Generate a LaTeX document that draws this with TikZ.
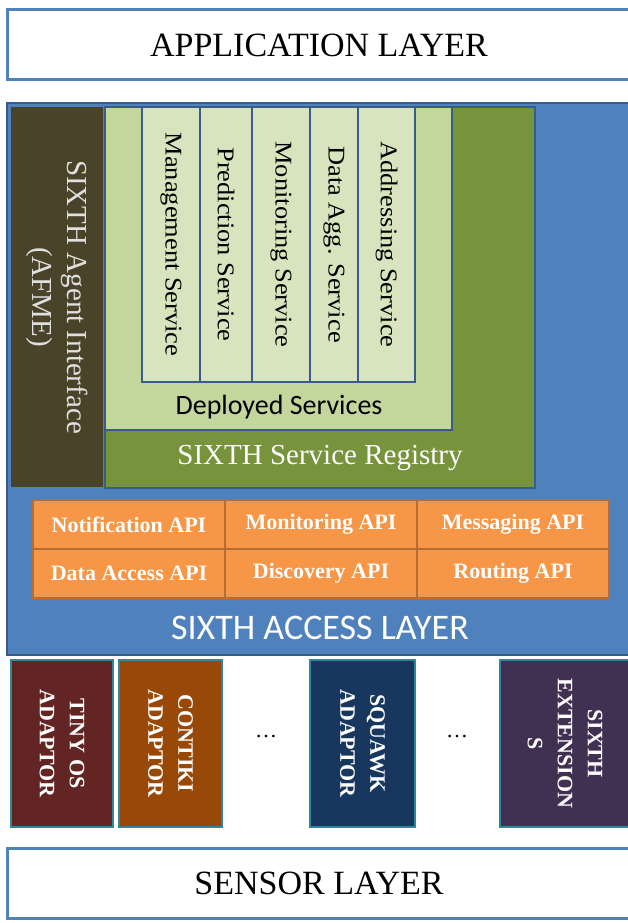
\documentclass[tikz,border=0pt]{standalone}
\usepackage{fontspec}
\setmainfont{Liberation Serif}
\newfontfamily\calib{Carlito}
\newfontfamily\servfont[FakeStretch=1.1]{Liberation Serif}
\definecolor{lblue}{HTML}{4F81BD}
\definecolor{dblue}{HTML}{385D8A}
\definecolor{afmebrown}{HTML}{494429}
\definecolor{reggreen}{HTML}{77933C}
\definecolor{depgreen}{HTML}{C3D69B}
\definecolor{svgreen}{HTML}{D7E4BD}
\definecolor{apiorange}{HTML}{F79646}
\definecolor{apibrd}{HTML}{B66D31}
\definecolor{adpbrd}{HTML}{31859C}
\definecolor{tinyred}{HTML}{632523}
\definecolor{contikibrown}{HTML}{984807}
\definecolor{squawknavy}{HTML}{17375E}
\definecolor{extpurple}{HTML}{403152}

\begin{document}
\begin{tikzpicture}[x=1pt,y=-1pt,
		box/.style={rectangle,anchor=north west,inner sep=0pt,outer sep=0pt},
		layer/.style={box,draw=lblue,line width=3pt,fill=white,minimum width=624pt,minimum height=70pt,font=\fontsize{34}{34}\selectfont},
		svc/.style={box,draw=dblue,line width=2.5pt,fill=svgreen,minimum height=275pt},
		svtxt/.style={rotate=-90,font=\servfont\fontsize{24}{24}\selectfont},
		api/.style={box,draw=apibrd,line width=2.5pt,fill=apiorange,minimum width=192pt,minimum height=49pt,text=white,font=\bfseries\fontsize{22}{22}\selectfont},
		adp/.style={box,draw=adpbrd,line width=2.5pt,minimum height=167pt},
		adtxt/.style={rotate=-90,align=center,text=white,font=\bfseries\fontsize{22}{30}\selectfont}]
		\useasboundingbox (0,0) rectangle (628,923);
		\clip (0,0) rectangle (628,923);
		\fill[white] (0,0) rectangle (628,923);
		\node[layer] (app) at (7,10) {APPLICATION LAYER};
		\node[box,fill=lblue,draw=dblue,line width=2pt,minimum width=630pt,minimum height=552pt] (sal) at (7,103) {};
		\node[box,fill=reggreen,draw=dblue,line width=1.5pt,minimum width=430pt,minimum height=381pt] (reg) at (105,107) {};
		\node[box,fill=afmebrown,minimum width=92pt,minimum height=380pt] (afme) at (11,107) {};
		\node[box,fill=depgreen,draw=dblue,line width=2.5pt,minimum width=347pt,minimum height=323pt] (dep) at (105,107) {};
		\node[svc,minimum width=58pt] (mgt) at (142,107) {};
		\node[svc,minimum width=52pt] (pred) at (200,107) {};
		\node[svc,minimum width=58pt] (mon) at (252,107) {};
		\node[svc,minimum width=48pt] (agg) at (310,107) {};
		\node[svc,minimum width=57pt] (addr) at (358,107) {};
		\node[svtxt] (mgtL) at (mgt.center) {Management Service};
		\node[svtxt] (predL) at (pred.center) {Prediction Service};
		\node[svtxt] (monL) at (mon.center) {Monitoring Service};
		\node[svtxt] (aggL) at (agg.center) {Data Agg. Service};
		\node[svtxt] (addrL) at (addr.center) {Addressing Service};
		\node[font=\calib\fontsize{28}{28}\selectfont] (depL) at (279,407) {Deployed Services};
		\node[text=white,font=\fontsize{29}{29}\selectfont] (regL) at (320,458) {SIXTH Service Registry};
		\node[rotate=-90,align=center,text=white!88!black,font=\fontsize{29}{35}\selectfont] (afmeL) at (afme.center) {SIXTH Agent Interface\\(AFME)};
		\node[api] (notif) at (33,500) {Notification API};
		\node[api] (monapi) at (225,500) {Monitoring API};
		\node[api] (msg) at (417,500) {Messaging API};
		\node[api] (dacc) at (33,549) {Data Access API};
		\node[api] (disc) at (225,549) {Discovery API};
		\node[api] (rout) at (417,549) {Routing API};
		\node[text=white,font=\calib\fontsize{36}{36}\selectfont] (accL) at (320,628) {SIXTH ACCESS LAYER};
		\node[adp,fill=tinyred,minimum width=102pt] (tiny) at (11,660) {};
		\node[adp,fill=contikibrown,minimum width=103pt] (contiki) at (119,660) {};
		\node[adp,fill=squawknavy,minimum width=105pt] (squawk) at (310,660) {};
		\node[adp,fill=extpurple,minimum width=130pt] (ext) at (500,660) {};
		\node[adtxt] (tinyL) at (tiny.center) {TINY OS\\ADAPTOR};
		\node[adtxt] (contikiL) at (contiki.center) {CONTIKI\\ADAPTOR};
		\node[adtxt] (squawkL) at (squawk.center) {SQUAWK\\ADAPTOR};
		\node[adtxt] (extL) at (ext.center) {SIXTH\\EXTENSION\\S};
		\node[font=\fontsize{22}{22}\selectfont] (dotsA) at (266,737) {\ldots};
		\node[font=\fontsize{22}{22}\selectfont] (dotsB) at (457,737) {\ldots};
		\node[layer] (sensor) at (7,848) {SENSOR LAYER};
	\end{tikzpicture}
\end{document}
